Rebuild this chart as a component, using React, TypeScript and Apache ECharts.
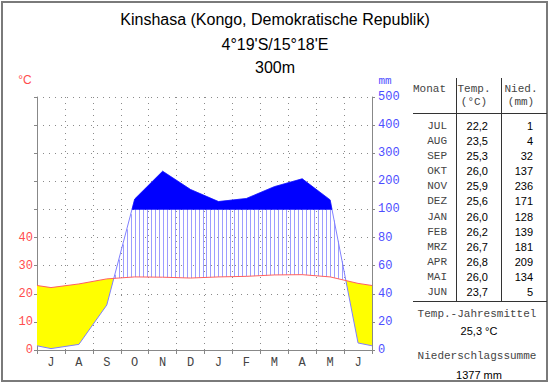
import React, { useEffect, useRef } from 'react';
import * as echarts from 'echarts';

const titleLines = ['Kinshasa (Kongo, Demokratische Republik)', "4°19'S/15°18'E", '300m'];
const monthLetters = ['J', 'A', 'S', 'O', 'N', 'D', 'J', 'F', 'M', 'A', 'M', 'J'];
const monthNames = ['JUL', 'AUG', 'SEP', 'OKT', 'NOV', 'DEZ', 'JAN', 'FEB', 'MRZ', 'APR', 'MAI', 'JUN'];
const temps = [22.2, 23.5, 25.3, 26.0, 25.9, 25.6, 26.0, 26.2, 26.7, 26.8, 26.0, 23.7];
const precip = [1, 4, 32, 137, 236, 171, 128, 139, 181, 209, 134, 5];
const leftTickLabels = ['0', '10', '20', '30', '40'];
const rightTickLabels = ['0', '20', '40', '60', '80', '100', '200', '300', '400', '500'];
const meanTempText = '25,3 °C';
const sumPrecipText = '1377 mm';

const MONO = '"Liberation Mono", "DejaVu Sans Mono", monospace';
const SANS = '"Liberation Sans", Arial, sans-serif';

// precipitation -> temperature-equivalent units (20 mm = 10 °C up to 100 mm, then 100 mm per 10 units)
const mmToU = (mm: number) => (mm <= 100 ? mm / 2 : 50 + (mm - 100) / 10);

function buildSeries() {
  const xs = [0, ...temps.map((_, i) => i + 0.5), 12];
  const edgeT = (temps[0] + temps[11]) / 2;
  const edgeP = (mmToU(precip[0]) + mmToU(precip[11])) / 2;
  const T = [edgeT, ...temps, edgeT];
  const P = [edgeP, ...precip.map(mmToU), edgeP];
  return { xs, T, P };
}

function interp(xs: number[], arr: number[], x: number) {
  for (let i = 0; i < xs.length - 1; i++) {
    if (x >= xs[i] && x <= xs[i + 1]) {
      const s = (x - xs[i]) / (xs[i + 1] - xs[i]);
      return arr[i] + s * (arr[i + 1] - arr[i]);
    }
  }
  return arr[arr.length - 1];
}

const txt = (text: string, x: number, y: number, font: string, fill: string, align = 'center') => ({
  type: 'text',
  silent: true,
  style: {
    text, x, y, font, fill,
    align, textAlign: align,
    verticalAlign: 'middle', textVerticalAlign: 'middle',
  },
});

const ln = (x1: number, y1: number, x2: number, y2: number, stroke = '#333', lineWidth = 1) => ({
  type: 'line',
  silent: true,
  shape: { x1, y1, x2, y2 },
  style: { stroke, lineWidth },
});

export default function App() {
  const ref = useRef<HTMLDivElement>(null);

  useEffect(() => {
    if (!ref.current) return;
    const chart = echarts.init(ref.current, undefined, { renderer: 'svg' });
    const { xs, T, P } = buildSeries();

    const renderItem = (params: any, api: any) => {
      const c = (x: number, y: number) => api.coord([x, y]);
      const children: any[] = [];

      // points including temp/precip crossings
      const pts: { x: number; t: number; p: number }[] = [];
      for (let i = 0; i < xs.length; i++) {
        pts.push({ x: xs[i], t: T[i], p: P[i] });
        if (i < xs.length - 1) {
          const d0 = P[i] - T[i];
          const d1 = P[i + 1] - T[i + 1];
          if (d0 * d1 < 0) {
            const s = d0 / (d0 - d1);
            const x = xs[i] + s * (xs[i + 1] - xs[i]);
            const t = T[i] + s * (T[i + 1] - T[i]);
            pts.push({ x, t, p: t });
          }
        }
      }
      // arid (yellow) runs
      let run: typeof pts = [];
      const flushArid = () => {
        if (run.length > 1) {
          const poly = [...run.map((q) => c(q.x, q.t)), ...run.slice().reverse().map((q) => c(q.x, q.p))];
          children.push({ type: 'polygon', shape: { points: poly }, style: { fill: '#ffff00', stroke: 'none' } });
        }
        run = [];
      };
      for (const q of pts) {
        if (q.p <= q.t + 1e-9) run.push(q);
        else flushArid();
      }
      flushArid();

      // humid hatching
      const step = 1 / 7;
      for (let k = 0; (k + 0.5) * step < 12; k++) {
        const x = (k + 0.5) * step;
        const t = interp(xs, T, x);
        const p = interp(xs, P, x);
        if (p > t) {
          const a = c(x, t);
          const b = c(x, Math.min(p, 50));
          const px = Math.round(a[0]) + 0.5;
          children.push({ type: 'line', shape: { x1: px, y1: a[1], x2: px, y2: b[1] }, style: { stroke: '#9d9dff', lineWidth: 1 } });
        }
      }

      // precipitation line
      children.push({
        type: 'polyline',
        shape: { points: xs.map((x, i) => c(x, P[i])) },
        style: { stroke: '#8080ff', fill: 'none', lineWidth: 1 },
      });

      // solid blue above 100 mm
      const pts2: { x: number; p: number }[] = [];
      for (let i = 0; i < xs.length; i++) {
        pts2.push({ x: xs[i], p: P[i] });
        if (i < xs.length - 1) {
          const d0 = P[i] - 50;
          const d1 = P[i + 1] - 50;
          if (d0 * d1 < 0) {
            const s = d0 / (d0 - d1);
            pts2.push({ x: xs[i] + s * (xs[i + 1] - xs[i]), p: 50 });
          }
        }
      }
      let run2: typeof pts2 = [];
      const flushBlue = () => {
        if (run2.length > 1) {
          const poly = [...run2.map((q) => c(q.x, q.p)), ...run2.slice().reverse().map((q) => c(q.x, 50))];
          children.push({ type: 'polygon', shape: { points: poly }, style: { fill: '#0000ff', stroke: '#0000ff', lineWidth: 0.5 } });
        }
        run2 = [];
      };
      for (const q of pts2) {
        if (q.p >= 50 - 1e-9) run2.push(q);
        else flushBlue();
      }
      flushBlue();

      // temperature line
      children.push({
        type: 'polyline',
        shape: { points: xs.map((x, i) => c(x, T[i])) },
        style: { stroke: '#ff6060', fill: 'none', lineWidth: 1 },
      });

      return { type: 'group', children };
    };

    const rowY0 = 125.6;
    const rowStep = 15.17;
    const graphic: any[] = [
      { type: 'rect', silent: true, shape: { x: 2, y: 2, width: 545, height: 379 }, style: { fill: 'none', stroke: '#7a7a7a', lineWidth: 2 } },
      txt(titleLines[0], 275, 19, `16px ${SANS}`, '#000'),
      txt(titleLines[1], 275, 44, `16px ${SANS}`, '#000'),
      txt(titleLines[2], 275, 67, `16px ${SANS}`, '#000'),
      txt('°C', 25, 80, `12px ${SANS}`, '#ff4d4d'),
      txt('mm', 385, 81, `11px ${MONO}`, '#4d4dff'),
      txt('Monat', 413, 89, `11px ${MONO}`, '#444', 'left'),
      txt('Temp.', 474, 89, `11px ${MONO}`, '#444'),
      txt('(°C)', 474, 102, `11px ${MONO}`, '#444'),
      txt('Nied.', 521, 89, `11px ${MONO}`, '#444'),
      txt('(mm)', 521, 102, `11px ${MONO}`, '#444'),
      ln(456.5, 78, 456.5, 302),
      ln(501.5, 78, 501.5, 302),
      ln(413, 113.5, 547, 113.5),
      ln(413, 301.5, 547, 301.5),
      txt('Temp.-Jahresmittel', 477, 314, `11px ${MONO}`, '#444'),
      txt(meanTempText, 479, 331, `11px ${SANS}`, '#000'),
      txt('Niederschlagssumme', 477, 356, `11px ${MONO}`, '#444'),
      txt(sumPrecipText, 479, 375, `11px ${SANS}`, '#000'),
    ];
    monthNames.forEach((m, i) => {
      const y = rowY0 + i * rowStep;
      graphic.push(txt(m, 447, y, `11px ${MONO}`, '#444', 'right'));
      graphic.push(txt(temps[i].toFixed(1).replace('.', ','), 488, y, `11px ${SANS}`, '#000', 'right'));
      graphic.push(txt(String(precip[i]), 533, y, `11px ${SANS}`, '#000', 'right'));
    });

    const dotted = { color: '#8a8a8a', width: 1, type: [1, 5] as any };

    chart.setOption({
      animation: false,
      grid: { left: 37, right: 178, top: 97, bottom: 34, containLabel: false },
      xAxis: [
        {
          type: 'category',
          data: monthLetters,
          boundaryGap: true,
          position: 'bottom',
          axisLine: { show: true, onZero: false, lineStyle: { color: '#888', width: 1 } },
          axisTick: { show: true, length: 4, interval: 0, lineStyle: { color: '#888' } },
          axisLabel: { interval: 0, margin: 7, color: '#444', fontFamily: MONO, fontSize: 12 },
          splitLine: { show: true, interval: 0, lineStyle: dotted },
        },
        { type: 'value', min: 0, max: 12, show: false },
      ],
      yAxis: [
        {
          type: 'value',
          min: 0,
          max: 90,
          interval: 10,
          position: 'left',
          axisLine: { show: true, lineStyle: { color: '#888', width: 1 } },
          axisTick: { show: true, length: 3, lineStyle: { color: '#888' } },
          axisLabel: {
            margin: 4,
            color: '#ff4d4d',
            fontFamily: MONO,
            fontSize: 12,
            formatter: (v: number) => leftTickLabels[Math.round(v / 10)] ?? '',
          },
          splitLine: { show: true, lineStyle: dotted },
        },
        {
          type: 'value',
          min: 0,
          max: 90,
          interval: 10,
          position: 'right',
          axisLine: { show: true, lineStyle: { color: '#888', width: 1 } },
          axisTick: { show: true, length: 3, lineStyle: { color: '#888' } },
          axisLabel: {
            margin: 6,
            color: '#4d4dff',
            fontFamily: MONO,
            fontSize: 12,
            formatter: (v: number) => rightTickLabels[Math.round(v / 10)] ?? '',
          },
          splitLine: { show: false },
        },
      ],
      series: [
        {
          type: 'custom',
          coordinateSystem: 'cartesian2d',
          xAxisIndex: 1,
          yAxisIndex: 0,
          silent: true,
          data: [[0, 0]],
          renderItem,
        },
      ],
      graphic,
    });

    return () => chart.dispose();
  }, []);

  return (
    <div
      ref={ref}
      style={{ position: 'fixed', left: 0, top: 0, width: 550, height: 384, background: '#fff' }}
    />
  );
}
